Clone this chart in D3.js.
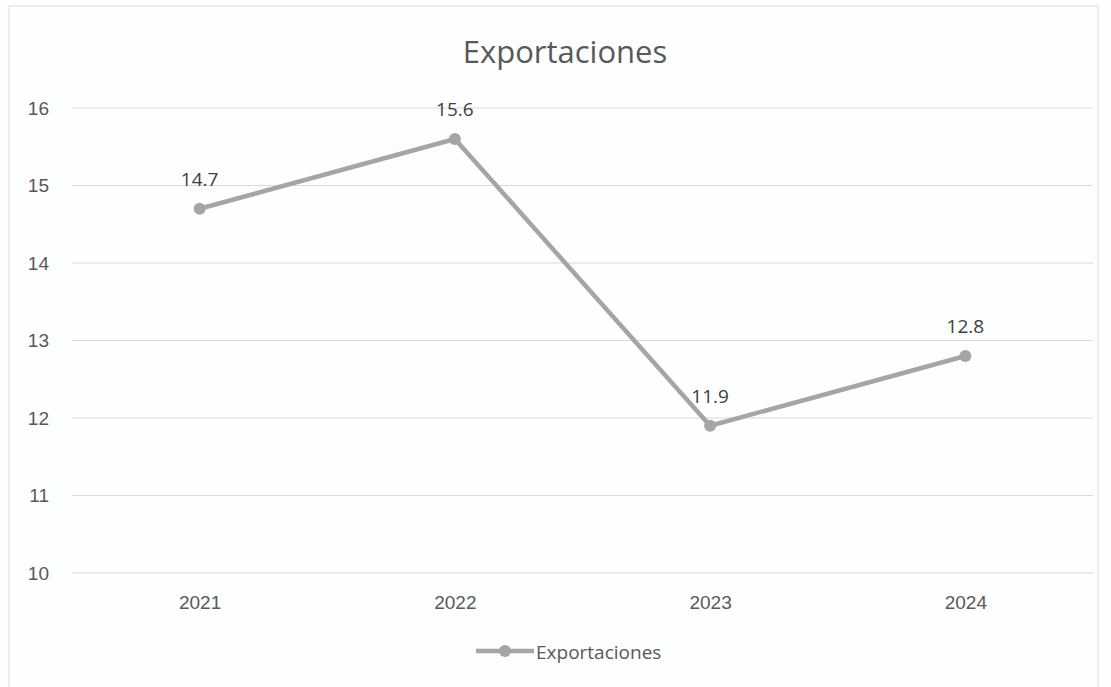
<!DOCTYPE html>
<html><head><meta charset="utf-8">
<script src="https://cdn.jsdelivr.net/npm/d3@7"></script>
<style>body{margin:0;background:#fff;}svg{display:block;font-family:"Open Sans","Noto Sans",sans-serif;}</style>
</head><body>
<script>
const categories = ["2021","2022","2023","2024"];
const values = [14.7, 15.6, 11.9, 12.8];
const yTicks = [10,11,12,13,14,15,16];
const seriesName = "Exportaciones";
const title = "Exportaciones";

const W = 1111, H = 687;
const svg = d3.select("body").append("svg").attr("width", W).attr("height", H);
svg.append("rect").attr("width", W).attr("height", H).attr("fill", "#fdfefe");
svg.append("rect").attr("x", 9).attr("y", 6).attr("width", 1089).attr("height", 700)
  .attr("fill", "none").attr("stroke", "#d9dcdf").attr("stroke-width", 1);

const x = d3.scalePoint().domain(categories).range([72, 1093]).padding(0.5);
const y = d3.scaleLinear().domain([10, 16]).range([573, 108]);

const grid = svg.append("g");
grid.selectAll("line").data(yTicks).join("line")
  .attr("x1", 72).attr("x2", 1093)
  .attr("y1", d => y(d)).attr("y2", d => y(d))
  .attr("stroke", "#d9d9d9").attr("stroke-width", 1);

const yAxis = svg.append("g").attr("transform", "translate(49,0)")
  .call(d3.axisLeft(y).tickValues(yTicks).tickSize(0).tickPadding(0).tickFormat(d3.format("d")));
yAxis.select(".domain").remove();
yAxis.selectAll("text").attr("font-size", 19).attr("fill", "#595959").attr("font-family", null);

const xAxis = svg.append("g").attr("transform", `translate(0,${y(10)})`)
  .call(d3.axisBottom(x).tickSize(0).tickPadding(23));
xAxis.select(".domain").remove();
xAxis.selectAll("text").attr("font-size", 19).attr("fill", "#595959").attr("font-family", null);

svg.append("text").attr("x", 565).attr("y", 63).attr("text-anchor", "middle")
  .attr("font-size", 31).attr("fill", "#595959").text(title);

const data = categories.map((c, i) => ({c, v: values[i]}));
const line = d3.line().x(d => x(d.c)).y(d => y(d.v));
svg.append("path").datum(data).attr("d", line)
  .attr("fill", "none").attr("stroke", "#a5a5a5").attr("stroke-width", 4.5).attr("stroke-linejoin", "round");
svg.selectAll("circle.pt").data(data).join("circle").attr("class", "pt")
  .attr("cx", d => x(d.c)).attr("cy", d => y(d.v)).attr("r", 6).attr("fill", "#a5a5a5");
svg.selectAll("text.lbl").data(data).join("text").attr("class", "lbl")
  .attr("x", d => x(d.c)).attr("y", d => y(d.v) - 23).attr("text-anchor", "middle")
  .attr("font-size", 19).attr("fill", "#404040").text(d => d3.format(".1f")(d.v));

const lg = svg.append("g");
lg.append("line").attr("x1", 476).attr("x2", 534).attr("y1", 651).attr("y2", 651)
  .attr("stroke", "#a5a5a5").attr("stroke-width", 4.5);
lg.append("circle").attr("cx", 505).attr("cy", 651).attr("r", 6).attr("fill", "#a5a5a5");
lg.append("text").attr("x", 536).attr("y", 659).attr("font-size", 19).attr("fill", "#595959").text(seriesName);
</script>
</body></html>
